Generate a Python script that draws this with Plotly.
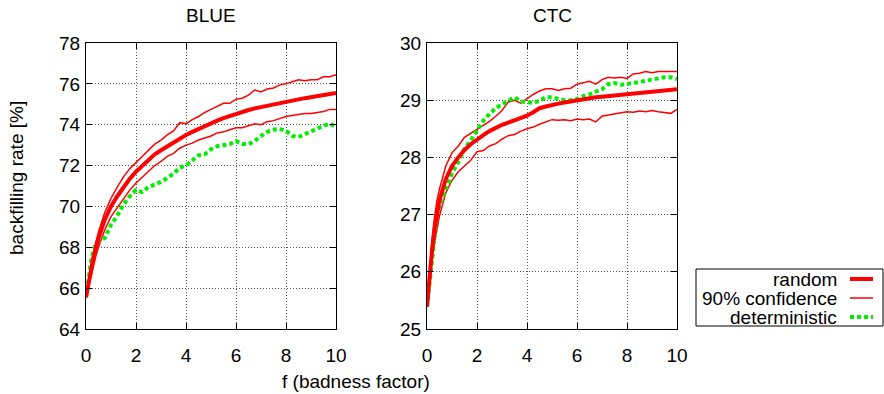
import plotly.graph_objects as go

# shared x grid (badness factor f)
f_values = [0, 0.1, 0.2, 0.3, 0.4, 0.5, 0.75, 1.0, 1.25, 1.5, 1.75, 2.0, 2.25, 2.5, 2.75,
            3.0, 3.25, 3.5, 3.75, 4.0, 4.25, 4.5, 4.75, 5.0, 5.25, 5.5, 5.75, 6.0, 6.25,
            6.5, 6.75, 7.0, 7.25, 7.5, 7.75, 8.0, 8.25, 8.5, 8.75, 9.0, 9.25, 9.5, 9.75, 10.0]

# BLUE
blue_random = [65.55, 66.3, 66.9, 67.5, 68.0, 68.45, 69.35, 70.0, 70.5, 70.95, 71.35, 71.7, 72.0,
               72.3, 72.55, 72.75, 72.95, 73.15, 73.32, 73.5, 73.65, 73.8, 73.95, 74.08, 74.2,
               74.32, 74.43, 74.54, 74.63, 74.72, 74.8, 74.87, 74.94, 75.0, 75.06, 75.12, 75.18,
               75.24, 75.3, 75.35, 75.4, 75.45, 75.5, 75.55]
blue_upper = [65.55, 66.5, 67.2, 67.8, 68.3, 68.75, 69.7, 70.4, 70.95, 71.45, 71.85, 72.15, 72.45,
              72.75, 73.05, 73.25, 73.5, 73.7, 74.1, 74.05, 74.25, 74.4, 74.6, 74.75, 74.9,
              75.05, 75.05, 75.25, 75.3, 75.45, 75.7, 75.6, 75.75, 75.8, 75.95, 76.0, 76.1,
              76.2, 76.15, 76.2, 76.2, 76.35, 76.35, 76.45]
blue_lower = [65.55, 66.1, 66.65, 67.15, 67.6, 68.0, 68.85, 69.5, 69.95, 70.4, 70.8, 71.15, 71.45,
              71.75, 72.0, 72.2, 72.45, 72.6, 72.85, 73.0, 73.1, 73.25, 73.35, 73.45, 73.6,
              73.65, 73.75, 73.85, 73.85, 73.95, 74.05, 74.0, 74.15, 74.2, 74.3, 74.4, 74.45,
              74.5, 74.55, 74.55, 74.6, 74.65, 74.75, 74.75]
blue_det = [65.55, 66.6, 67.3, 67.85, 68.15, 68.3, 68.45, 69.1, 69.55, 70.1, 70.5, 70.8, 70.7,
            70.95, 71.05, 71.2, 71.4, 71.6, 71.9, 72.0, 72.25, 72.5, 72.55, 72.8, 72.95,
            73.0, 73.05, 73.2, 73.05, 73.05, 73.2, 73.45, 73.65, 73.75, 73.8, 73.7, 73.45,
            73.4, 73.55, 73.7, 73.8, 73.95, 74.05, 73.9]

# CTC
ctc_random = [25.39, 25.95, 26.37, 26.75, 27.03, 27.25, 27.62, 27.85, 28.0, 28.13, 28.23, 28.32,
              28.39, 28.46, 28.52, 28.57, 28.61, 28.65, 28.69, 28.73, 28.79, 28.86, 28.89, 28.92,
              28.94, 28.96, 28.98, 29.0, 29.02, 29.03, 29.05, 29.06, 29.07, 29.08, 29.09, 29.1,
              29.11, 29.12, 29.13, 29.14, 29.15, 29.16, 29.17, 29.19]
ctc_upper = [25.39, 26.05, 26.55, 26.95, 27.25, 27.45, 27.85, 28.08, 28.2, 28.35, 28.42, 28.5,
             28.56, 28.63, 28.72, 28.82, 28.97, 29.0, 28.95, 29.03, 29.1, 29.16, 29.2, 29.2,
             29.17, 29.2, 29.21, 29.28, 29.3, 29.33, 29.28, 29.36, 29.4, 29.39, 29.4, 29.38,
             29.46, 29.47, 29.5, 29.48, 29.5, 29.5, 29.51, 29.5]
ctc_lower = [25.39, 25.85, 26.2, 26.5, 26.78, 26.98, 27.38, 27.6, 27.75, 27.85, 27.95, 28.1,
             28.12, 28.2, 28.24, 28.32, 28.38, 28.4, 28.46, 28.5, 28.53, 28.58, 28.62, 28.66,
             28.65, 28.66, 28.64, 28.67, 28.66, 28.67, 28.62, 28.72, 28.74, 28.76, 28.78, 28.8,
             28.79, 28.81, 28.8, 28.82, 28.8, 28.78, 28.77, 28.84]
ctc_det = [25.39, 25.75, 26.2, 26.6, 27.0, 27.15, 27.45, 27.72, 27.92, 28.15, 28.3, 28.47,
           28.64, 28.76, 28.86, 28.93, 28.99, 29.05, 28.98, 28.96, 28.95, 28.99, 29.05, 29.05,
           29.03, 29.0, 29.0, 29.02, 29.07, 29.1, 29.15, 29.19, 29.28, 29.3, 29.27, 29.28,
           29.3, 29.32, 29.34, 29.36, 29.38, 29.4, 29.4, 29.37]

panel_titles = ["BLUE", "CTC"]
series_names = ["random", "90% confidence", "deterministic"]
x_ticks = [0, 2, 4, 6, 8, 10]
blue_y_ticks = [64, 66, 68, 70, 72, 74, 76, 78]
ctc_y_ticks = [25, 26, 27, 28, 29, 30]

W, H = 884, 394
FONT = "Liberation Sans, Arial, Helvetica, sans-serif"
RED = "#ff0000"
GREEN = "#00ee00"
FS = 19


def px(x):
    return x / W


def py(y):
    return 1 - y / H


fig = go.Figure()


def add_panel(xa, ya, rnd, up, lo, det):
    fig.add_trace(go.Scatter(x=f_values, y=up, mode="lines", xaxis=xa, yaxis=ya,
                             line=dict(color=RED, width=1.5), name=series_names[1], showlegend=False))
    fig.add_trace(go.Scatter(x=f_values, y=lo, mode="lines", xaxis=xa, yaxis=ya,
                             line=dict(color=RED, width=1.5), name=series_names[1], showlegend=False))
    fig.add_trace(go.Scatter(x=f_values, y=det, mode="lines", xaxis=xa, yaxis=ya,
                             line=dict(color=GREEN, width=4, dash="4px,3px"), name=series_names[2],
                             showlegend=False))
    fig.add_trace(go.Scatter(x=f_values, y=rnd, mode="lines", xaxis=xa, yaxis=ya,
                             line=dict(color=RED, width=4), name=series_names[0], showlegend=False))


add_panel("x", "y", blue_random, blue_upper, blue_lower, blue_det)
add_panel("x2", "y2", ctc_random, ctc_upper, ctc_lower, ctc_det)

axis_common = dict(
    showline=True, linecolor="black", linewidth=1, mirror="allticks",
    ticks="inside", ticklen=6, tickcolor="black", tickwidth=1,
    showgrid=True, gridcolor="rgba(70,70,70,0.9)", gridwidth=1, griddash="1px,2px",
    zeroline=False, tickfont=dict(family=FONT, size=FS, color="black"), automargin=False,
)

top, bottom = 43, 329
fig.update_layout(
    width=W, height=H, margin=dict(l=0, r=0, t=0, b=0),
    paper_bgcolor="white", plot_bgcolor="white", showlegend=False,
    xaxis=dict(domain=[px(86), px(336)], range=[0, 10], tickvals=x_ticks, anchor="y",
               ticklabelstandoff=9, **axis_common),
    yaxis=dict(domain=[py(bottom), py(top)], range=[64, 78], tickvals=blue_y_ticks, anchor="x",
               ticklabelstandoff=1, **axis_common),
    xaxis2=dict(domain=[px(427), px(677)], range=[0, 10], tickvals=x_ticks, anchor="y2",
                ticklabelstandoff=9, **axis_common),
    yaxis2=dict(domain=[py(bottom), py(top)], range=[25, 30], tickvals=ctc_y_ticks, anchor="x2",
                ticklabelstandoff=1, **axis_common),
)

ann = []
ann.append(dict(x=px(211), y=py(15), xref="paper", yref="paper", text=panel_titles[0], showarrow=False,
                font=dict(family=FONT, size=FS, color="black"), xanchor="center", yanchor="middle"))
ann.append(dict(x=px(552), y=py(15), xref="paper", yref="paper", text=panel_titles[1], showarrow=False,
                font=dict(family=FONT, size=FS, color="black"), xanchor="center", yanchor="middle"))
ann.append(dict(x=px(16), y=py(178), xref="paper", yref="paper", text="backfilling rate [%]",
                showarrow=False, textangle=-90, font=dict(family=FONT, size=FS, color="black"),
                xanchor="center", yanchor="middle"))
ann.append(dict(x=px(356), y=py(381), xref="paper", yref="paper", text="f (badness factor)",
                showarrow=False, font=dict(family=FONT, size=FS, color="black"),
                xanchor="center", yanchor="middle"))

# manual legend (gnuplot style: text right-aligned, sample on the right)
leg_rows = [279, 298, 317]
leg_styles = [dict(color=RED, width=4), dict(color=RED, width=1.5),
              dict(color=GREEN, width=4, dash="4px,3px")]
shapes = [dict(type="rect", xref="paper", yref="paper", x0=px(696), x1=px(883), y0=py(326), y1=py(269),
               line=dict(color="black", width=1), fillcolor="rgba(0,0,0,0)")]
for name, row, st in zip(series_names, leg_rows, leg_styles):
    ann.append(dict(x=px(839), y=py(row), xref="paper", yref="paper", text=name, showarrow=False,
                    font=dict(family=FONT, size=FS, color="black"), xanchor="right", yanchor="middle"))
    shapes.append(dict(type="line", xref="paper", yref="paper", x0=px(850), x1=px(873),
                       y0=py(row), y1=py(row), line=st))

fig.update_layout(annotations=ann, shapes=shapes)
fig.write_html("out.html", config={"displayModeBar": False},
               post_script="document.body.style.margin='0';document.body.style.overflow='hidden';")
